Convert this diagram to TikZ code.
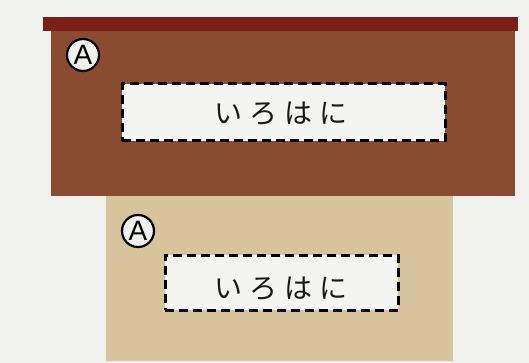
\documentclass[tikz,border=0pt]{standalone}
\usepackage{fontspec}
\newfontfamily\jpfont{Noto Sans CJK JP}
\newfontfamily\lsans{Liberation Sans}
\definecolor{bgcol}{HTML}{F0F0EF}
\definecolor{barcol}{HTML}{7A2016}
\definecolor{browncol}{HTML}{8A4B30}
\definecolor{tancol}{HTML}{D7C49C}
\definecolor{boxfill}{HTML}{F4F4F2}
\tikzset{
  labelbox/.style={draw=black, fill=boxfill, line width=3pt,
    dash pattern=on 9pt off 5pt, inner sep=0pt},
  jptext/.style={inner sep=0pt, text=black!90,
    font=\jpfont\fontsize{28pt}{28pt}\selectfont},
  markcircle/.style={circle, draw=black, fill=bgcol, line width=2.2pt,
    minimum size=32pt, inner sep=0pt,
    font=\lsans\fontsize{28pt}{28pt}\selectfont}
}
\newcommand{\iroha}{い\hspace{7pt}ろ\hspace{7pt}は\hspace{7pt}に}
\begin{document}
\begin{tikzpicture}[x=1pt,y=-1pt]
\useasboundingbox (0,0) rectangle (529,363);
\fill[bgcol] (0,0) rectangle (529,363);
\fill[tancol] (106,196) rectangle (453,361);
\fill[browncol] (51,31) rectangle (515,196);
\fill[barcol] (43,17) rectangle (518,31);
\node[labelbox, minimum width=323pt, minimum height=57pt] (boxA) at (283.5,112.5) {};
\node[jptext] (textA) at (281,114) {\iroha};
\node[labelbox, minimum width=233pt, minimum height=55pt] (boxB) at (281.5,282.5) {};
\node[jptext] (textB) at (281,289) {\iroha};
\node[markcircle] (circA) at (83,55) {A};
\node[markcircle] (circB) at (138,231) {A};
\end{tikzpicture}
\end{document}
